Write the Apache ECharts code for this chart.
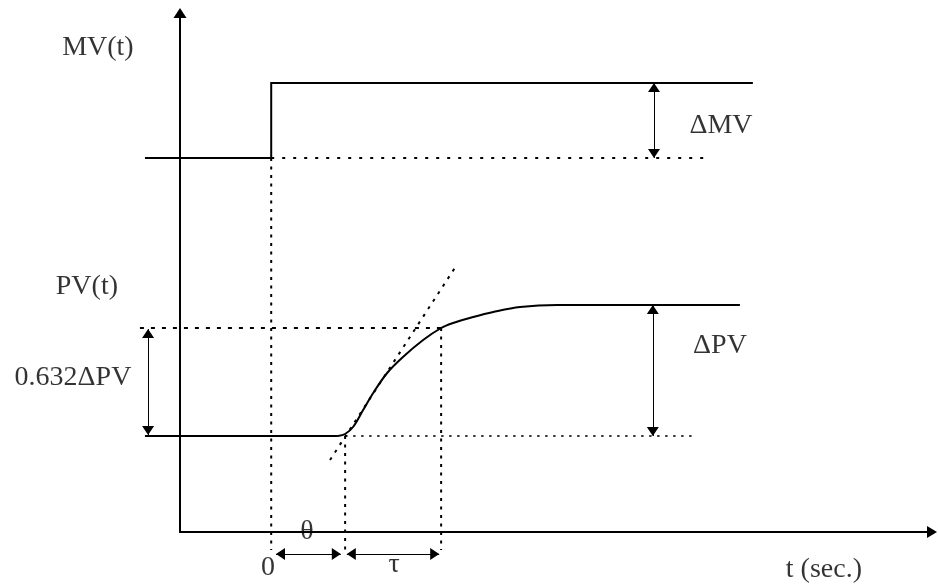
<!DOCTYPE html>
<html>
<head>
<meta charset="utf-8">
<script src="https://cdn.jsdelivr.net/npm/echarts@6/dist/echarts.min.js"></script>
<style>
html,body{margin:0;padding:0;background:#fff;}
#chart{width:938px;height:588px;}
</style>
</head>
<body>
<div id="chart"></div>
<script>
// ---- data (time in s, response in arbitrary units) ----
const MV_LINE = [[-5.26, 37.4], [0, 37.4], [0, 44.9], [20.07, 44.9]];
const MV_BASE_DOTTED = [[0, 37.4], [18.0, 37.4]];
const PV_BASE = [[-5.26, 9.6], [2.78, 9.6]];
const PV_CURVE = [[2.78, 9.6], [3.08, 9.8], [3.41, 10.5], [3.83, 12.2], [4.25, 13.9],
  [4.83, 15.9], [5.49, 17.5], [6.33, 19.2], [7.08, 20.4], [7.58, 20.9], [8.42, 21.5], [9.25, 22.0],
  [10.37, 22.5], [11.92, 22.7], [19.53, 22.7]];
const PV_BASE_DOTTED = [[3.08, 9.6], [17.66, 9.6]];
const LEVEL_632 = [[-5.47, 20.4], [7.08, 20.4]];
const TANGENT = [[2.45, 7.2], [7.73, 26.7]];
const V_ZERO = [[0, 37.4], [0, -1.8]];
const V_THETA = [[3.08, 9.6], [3.08, -1.8]];
const V_TAU = [[7.08, 20.4], [7.08, -1.8]];
const ARROW_DMV = [[15.95, 44.9], [15.95, 37.4]];
const ARROW_DPV = [[15.9, 22.7], [15.9, 9.6]];
const ARROW_632 = [[-5.13, 20.3], [-5.13, 9.7]];
const ARROW_THETA = [[0.2, -2.2], [2.9, -2.2]];
const ARROW_TAU = [[3.15, -2.2], [7.0, -2.2]];
const LABELS = ['MV(t)', 'PV(t)', '0.632ΔPV', 'ΔMV', 'ΔPV', '0', 'θ', 'τ', 't (sec.)'];
const LABEL_X = [-7.22, -7.68, -8.26, 18.74, 18.7, -0.13, 1.49, 5.12, 23.03];
const LABEL_Y = [48.4, 24.5, 15.4, 40.6, 18.6, -3.6, 0.0, -3.3, -3.8];

// ---- chart ----
const FONT = '"Liberation Serif", "DejaVu Serif", serif';
// arrow head whose tip sits at the symbol centre (so the tip lands on the end point)
const HEAD = 'path://M0,0 L-6,9 L6,9 Z M0,-9';
function seg(coords, width, type) {
  return {
    type: 'lines', coordinateSystem: 'cartesian2d', polyline: true, silent: true, clip: false,
    symbol: 'none',
    lineStyle: { color: '#000', width: width, type: type, opacity: 1, curveness: 0 },
    data: [{ coords: coords }], z: 3
  };
}
function arrow(coords) {
  return {
    type: 'lines', coordinateSystem: 'cartesian2d', silent: true, clip: false,
    symbol: [HEAD, HEAD], symbolSize: [[12, 18], [12, 18]],
    itemStyle: { color: '#000' },
    lineStyle: { color: '#000', width: 1, opacity: 1, curveness: 0 },
    data: [{ coords: coords }], z: 4
  };
}
const chart = echarts.init(document.getElementById('chart'));
chart.setOption({
  animation: false,
  backgroundColor: '#fff',
  grid: { left: 180, top: 13, width: 752, height: 519, containLabel: false, outerBoundsMode: 'none' },
  xAxis: {
    type: 'value', min: -3.8, max: 27.533,
    axisLine: { show: true, onZero: false, symbol: ['none', 'triangle'], symbolSize: [12, 10],
      lineStyle: { color: '#000', width: 2 } },
    axisTick: { show: false }, axisLabel: { show: false }, splitLine: { show: false }
  },
  yAxis: {
    type: 'value', min: 0, max: 51.9,
    axisLine: { show: true, onZero: false, symbol: ['none', 'triangle'], symbolSize: [13, 10],
      lineStyle: { color: '#000', width: 2 } },
    axisTick: { show: false }, axisLabel: { show: false }, splitLine: { show: false }
  },
  series: [
    seg(MV_LINE, 2, 'solid'),
    seg(MV_BASE_DOTTED, 2, [3, 8]),
    seg(PV_BASE, 2, 'solid'),
    {
      type: 'line', data: PV_CURVE, symbol: 'none', clip: false, silent: true, smooth: 0.35,
      lineStyle: { color: '#000', width: 2 }, emphasis: { disabled: true }, z: 3
    },
    seg(PV_BASE_DOTTED, 1.5, [2.5, 5.5]),
    seg(LEVEL_632, 2, [4, 7]),
    seg(TANGENT, 2, [3, 6]),
    seg(V_ZERO, 2, [3, 5.5]),
    seg(V_THETA, 2, [3, 5.5]),
    seg(V_TAU, 2, [3, 5.5]),
    arrow(ARROW_DMV), arrow(ARROW_DPV), arrow(ARROW_632), arrow(ARROW_THETA), arrow(ARROW_TAU),
    {
      type: 'scatter', clip: false, silent: true, symbolSize: 0, z: 5,
      data: LABELS.map((s, i) => ({ name: s, value: [LABEL_X[i], LABEL_Y[i]] })),
      label: { show: true, position: 'inside', formatter: p => p.name,
        color: '#000', fontFamily: FONT, fontSize: 28 }
    }
  ]
});
</script>
</body>
</html>
